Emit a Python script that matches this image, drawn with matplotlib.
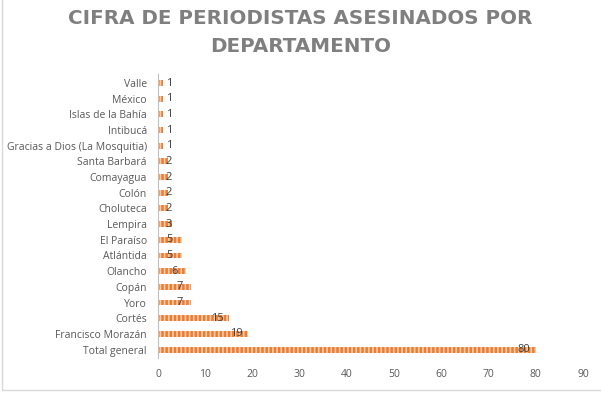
import matplotlib
matplotlib.use("Agg")
import matplotlib.pyplot as plt
from matplotlib.patches import Rectangle

departamentos = ["Total general", "Francisco Morazán", "Cortés", "Yoro", "Copán",
                 "Olancho", "Atlántida", "El Paraíso", "Lempira", "Choluteca",
                 "Colón", "Comayagua", "Santa Barbará", "Gracias a Dios (La Mosquitia)",
                 "Intibucá", "Islas de la Bahía", "México", "Valle"]
asesinados = [80, 19, 15, 7, 7, 6, 5, 5, 3, 2, 2, 2, 2, 1, 1, 1, 1, 1]
xticks = [0, 10, 20, 30, 40, 50, 60, 70, 80, 90]

TXT = "#595959"
plt.rcParams["font.family"] = ["Open Sans", "DejaVu Sans"]
plt.rcParams["hatch.linewidth"] = 1.2

fig = plt.figure(figsize=(6.01, 3.94), dpi=100)
ax = fig.add_axes([0.263, 0.091, 0.707, 0.72])

pos = list(range(len(departamentos)))
ax.barh(pos, asesinados, height=0.38, color="#ED7D31", edgecolor="#F8CBAD",
        linewidth=0, hatch="||||")
for p, v in zip(pos, asesinados):
    ax.text(max(v - 2.5, 2.3), p, str(v), ha="center", va="center",
            fontsize=8, color="#404040")

ax.set_xlim(0, 90)
ax.set_ylim(-0.55, len(departamentos) - 0.45)
ax.set_xticks(xticks)
ax.set_yticks(pos)
ax.set_yticklabels(departamentos)
ax.tick_params(length=0, labelsize=7.5, colors=TXT)
ax.tick_params(axis="x", pad=8)
ax.tick_params(axis="y", pad=8)
for s in ["top", "right", "bottom"]:
    ax.spines[s].set_visible(False)
ax.spines["left"].set_color("#BFBFBF")

fig.text(0.5, 0.978, "CIFRA DE PERIODISTAS ASESINADOS POR\nDEPARTAMENTO",
         ha="center", va="top", fontsize=14.3, fontweight="bold", color="#7F7F7F",
         family="DejaVu Sans", linespacing=1.6)

fig.patches.append(Rectangle((2 / 601, 4 / 394), 1.0, 1.0, transform=fig.transFigure,
                             fill=False, edgecolor="#D9D9D9", linewidth=1))

fig.savefig("out.png", dpi=100)
